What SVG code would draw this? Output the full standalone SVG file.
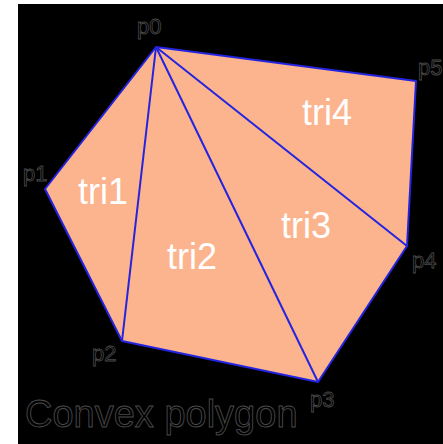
<svg xmlns="http://www.w3.org/2000/svg" width="443" height="444" viewBox="0 0 443 444">
<style>
.bg{fill:#000}
.poly{fill:#FCB48E;stroke:#2424E0;stroke-width:2;stroke-linejoin:round}
.edge{stroke:#2424E0;stroke-width:2;fill:none}
.pl{font-family:"Liberation Sans",Arial,sans-serif;font-size:22px;fill:#000;stroke:#4a4a4a;stroke-width:0.8}
.tl{font-family:"Liberation Sans",Arial,sans-serif;font-size:36px;fill:#fff}
.title{font-family:"Liberation Sans",Arial,sans-serif;font-size:38px;fill:#000;stroke:#4a4a4a;stroke-width:0.9}
</style>
<rect x="0" y="0" width="443" height="444" fill="#fff"/>
<rect class="bg" x="18" y="4" width="425" height="440"/>
<g id="polygon">
<polygon class="poly" points="156,47 45,189 122,341 318,382 407,246 416,81"/>
</g>
<g id="connectors">
<line class="edge" x1="156" y1="47" x2="122" y2="341"/>
<line class="edge" x1="156" y1="47" x2="318" y2="382"/>
<line class="edge" x1="156" y1="47" x2="407" y2="246"/>
</g>
<g id="tri1"><text class="tl" x="78" y="204">tri1</text></g>
<g id="tri2"><text class="tl" x="167" y="269">tri2</text></g>
<g id="tri3"><text class="tl" x="281" y="238">tri3</text></g>
<g id="tri4"><text class="tl" x="302" y="125">tri4</text></g>
<g id="p0"><text class="pl" x="137" y="34">p0</text></g>
<g id="p1"><text class="pl" x="23" y="181">p1</text></g>
<g id="p2"><text class="pl" x="92" y="361">p2</text></g>
<g id="p3"><text class="pl" x="310" y="407">p3</text></g>
<g id="p4"><text class="pl" x="412" y="268">p4</text></g>
<g id="p5"><text class="pl" x="418" y="75">p5</text></g>
<text class="title" x="25" y="427">Convex polygon</text>
</svg>
